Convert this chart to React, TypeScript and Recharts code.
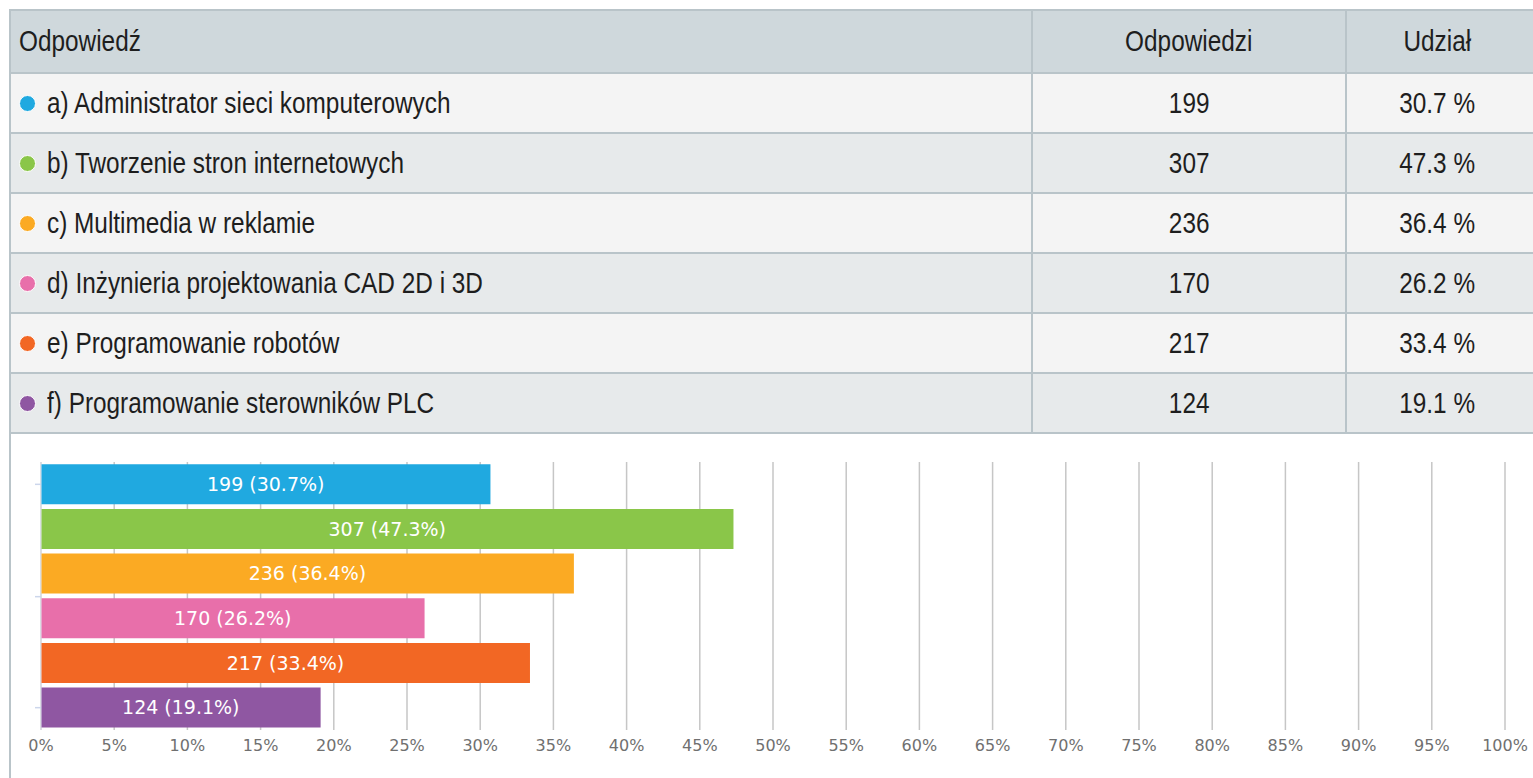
import React from 'react';
import { BarChart, Bar, XAxis, YAxis, CartesianGrid, LabelList, Cell } from 'recharts';

const headers = ['Odpowiedź', 'Odpowiedzi', 'Udział'];
const answers = [
  'a) Administrator sieci komputerowych',
  'b) Tworzenie stron internetowych',
  'c) Multimedia w reklamie',
  'd) Inżynieria projektowania CAD 2D i 3D',
  'e) Programowanie robotów',
  'f) Programowanie sterowników PLC',
];
const counts = [199, 307, 236, 170, 217, 124];
const shares = [30.7, 47.3, 36.4, 26.2, 33.4, 19.1];
const palette = ['#20a9e0', '#8ac649', '#fbaa23', '#e86faa', '#f26724', '#8f57a2'];
const xTicks = [0, 5, 10, 15, 20, 25, 30, 35, 40, 45, 50, 55, 60, 65, 70, 75, 80, 85, 90, 95, 100];

const chartData = answers.map((name, i) => ({
  name,
  share: shares[i],
  label: `${counts[i]} (${shares[i]}%)`,
}));

// no narrow face installed, so squeeze Liberation Sans horizontally
const tableFont = "'Liberation Sans', Arial, sans-serif";
const chartFont = "'DejaVu Sans', Verdana, sans-serif";
const line = '2px solid #b9c4c9';

const colWidths = [1022, 314, 186];

const AxisTick = (props: any) => {
  const { x, y, index } = props;
  if (index === 0 || index === 5) {
    return <line x1={x + 2} x2={x + 8} y1={y} y2={y} stroke="#ccd6eb" strokeWidth={1.5} />;
  }
  if (index === 2) {
    return <line x1={x + 2} x2={x + 8} y1={y + 23} y2={y + 23} stroke="#ccd6eb" strokeWidth={1.5} />;
  }
  return <g />;
};

function Narrow({ text, origin }: { text: string | number; origin: string }) {
  return (
    <span style={{ display: 'inline-block', transform: 'scaleX(0.84)', transformOrigin: origin }}>{text}</span>
  );
}

function Row({ cells, bg, height, dot }: { cells: (string | number)[]; bg: string; height: number; dot?: string }) {
  return (
    <div style={{ display: 'flex', height, background: bg, borderBottom: line, boxSizing: 'border-box' }}>
      {cells.map((c, i) => (
        <div
          key={i}
          style={{
            width: colWidths[i],
            boxSizing: 'border-box',
            borderRight: i < 2 ? line : 'none',
            display: 'flex',
            alignItems: 'center',
            justifyContent: i === 0 ? 'flex-start' : 'center',
            paddingLeft: i === 0 ? 8 : 0,
            paddingRight: i === 2 ? 6 : 0,
            whiteSpace: 'nowrap',
          }}
        >
          {i === 0 && dot && (
            <span
              style={{
                display: 'inline-block',
                flex: 'none',
                width: 15,
                height: 15,
                borderRadius: '50%',
                background: dot,
                border: '1px solid #fff',
                marginRight: 11,
              }}
            />
          )}
          <Narrow text={c} origin={i === 0 ? 'left center' : 'center center'} />
        </div>
      ))}
    </div>
  );
}

export default function App() {
  return (
    <div style={{ position: 'fixed', left: 0, top: 0, width: 1533, height: 778, overflow: 'hidden', background: '#fff' }}>
      <div
        style={{
          position: 'absolute',
          left: 9,
          top: 9,
          width: 1530,
          height: 780,
          borderLeft: line,
          borderTop: line,
          fontFamily: tableFont,
          fontSize: 29,
          color: '#1e1e1e',
        }}
      >
        <Row cells={headers} bg="#cfd8dc" height={63} />
        {answers.map((a, i) => (
          <Row
            key={a}
            cells={[a, counts[i], `${shares[i]} %`]}
            bg={i % 2 === 0 ? '#f4f4f4' : '#e7eaeb'}
            height={60}
            dot={palette[i]}
          />
        ))}
        <BarChart
          width={1520}
          height={343}
          data={chartData}
          layout="vertical"
          margin={{ top: 28, right: 26, bottom: 17, left: 24 }}
          barCategoryGap="5%"
        >
          <CartesianGrid horizontal={false} stroke="#c6c6c6" strokeWidth={1.5} />
          <XAxis
            type="number"
            dataKey="share"
            domain={[0, 100]}
            ticks={xTicks}
            tickFormatter={(v: number) => `${v}%`}
            axisLine={false}
            tickLine={false}
            tickMargin={4}
            height={30}
            tick={{ fill: '#707070', fontSize: 16, fontFamily: chartFont }}
            interval={0}
          />
          <YAxis
            type="category"
            dataKey="name"
            width={6}
            axisLine={{ stroke: '#e3e8f2' }}
            tickLine={false}
            tick={AxisTick}
            interval={0}
          />
          <Bar dataKey="share" isAnimationActive={false}>
            {chartData.map((d, i) => (
              <Cell key={d.name} fill={palette[i]} />
            ))}
            <LabelList
              dataKey="label"
              position="center"
              fill="#ffffff"
              style={{ fontSize: 19, fontFamily: chartFont }}
            />
          </Bar>
        </BarChart>
      </div>
    </div>
  );
}
